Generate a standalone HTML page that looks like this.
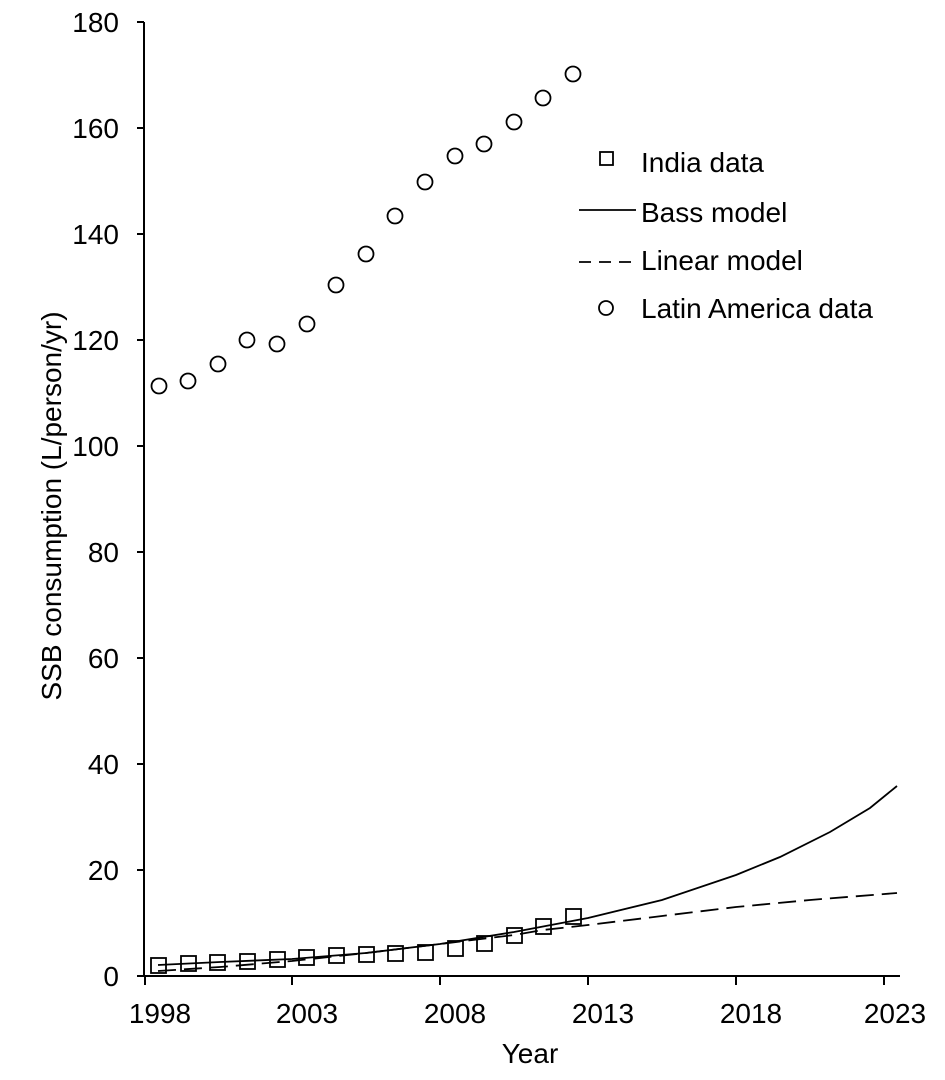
<!DOCTYPE html>
<html><head><meta charset="utf-8"><style>body{margin:0;background:#fff}svg{display:block}</style></head>
<body>
<svg width="945" height="1080" viewBox="0 0 945 1080" xmlns="http://www.w3.org/2000/svg" font-family="Liberation Sans, Arial, sans-serif" font-size="28" fill="#000">
<g stroke="#000" stroke-width="2" fill="none">
<line x1="144" y1="22" x2="144" y2="976"/>
<line x1="144" y1="976" x2="900" y2="976"/>
<line x1="137" y1="22" x2="144" y2="22"/>
<line x1="137" y1="128" x2="144" y2="128"/>
<line x1="137" y1="234" x2="144" y2="234"/>
<line x1="137" y1="340" x2="144" y2="340"/>
<line x1="137" y1="446" x2="144" y2="446"/>
<line x1="137" y1="552" x2="144" y2="552"/>
<line x1="137" y1="658" x2="144" y2="658"/>
<line x1="137" y1="764" x2="144" y2="764"/>
<line x1="137" y1="870" x2="144" y2="870"/>
<line x1="137" y1="976" x2="144" y2="976"/>
<line x1="145" y1="976" x2="145" y2="985"/>
<line x1="292" y1="976" x2="292" y2="985"/>
<line x1="440" y1="976" x2="440" y2="985"/>
<line x1="588" y1="976" x2="588" y2="985"/>
<line x1="736" y1="976" x2="736" y2="985"/>
<line x1="884" y1="976" x2="884" y2="985"/>
</g>
<g text-anchor="end">
<text x="119" y="32">180</text><text x="119" y="138">160</text><text x="119" y="244">140</text>
<text x="119" y="350">120</text><text x="119" y="456">100</text><text x="119" y="562">80</text>
<text x="119" y="668">60</text><text x="119" y="774">40</text><text x="119" y="880">20</text>
<text x="119" y="986">0</text>
</g>
<g text-anchor="middle">
<text x="160" y="1023">1998</text><text x="307" y="1023">2003</text><text x="455" y="1023">2008</text>
<text x="603" y="1023">2013</text><text x="751" y="1023">2018</text><text x="895" y="1023">2023</text>
<text x="530" y="1063">Year</text>
<text transform="translate(61,506) rotate(-90)">SSB consumption (L/person/yr)</text>
</g>
<g stroke="#000" stroke-width="1.8" fill="none">
<polyline points="158,965 220,962 292,959 366,953 440,944 514,932 588,918 662,900 736,875 780,857 830,832 870,808 897,786"/>
<polyline stroke-dasharray="18,8" points="158,971 220,967 292,961 366,953 440,944 514,935 543,930 588,925 662,916 736,907 810,900 897,893"/>
</g>
<g stroke="#000" stroke-width="1.8" fill="none">
<rect x="151" y="958" width="15" height="15"/><rect x="181" y="956" width="15" height="15"/>
<rect x="210" y="955" width="15" height="15"/><rect x="240" y="954" width="15" height="15"/>
<rect x="270" y="952" width="15" height="15"/><rect x="299" y="950" width="15" height="15"/>
<rect x="329" y="948" width="15" height="15"/><rect x="359" y="947" width="15" height="15"/>
<rect x="388" y="946" width="15" height="15"/><rect x="418" y="945" width="15" height="15"/>
<rect x="448" y="941" width="15" height="15"/><rect x="477" y="936" width="15" height="15"/>
<rect x="507" y="928" width="15" height="15"/><rect x="536" y="919" width="15" height="15"/>
<rect x="566" y="909" width="15" height="15"/>
</g>
<g stroke="#000" stroke-width="1.8" fill="none">
<circle cx="159" cy="386" r="7.5"/><circle cx="188" cy="381" r="7.5"/><circle cx="218" cy="364" r="7.5"/>
<circle cx="247" cy="340" r="7.5"/><circle cx="277" cy="344" r="7.5"/><circle cx="307" cy="324" r="7.5"/>
<circle cx="336" cy="285" r="7.5"/><circle cx="366" cy="254" r="7.5"/><circle cx="395" cy="216" r="7.5"/>
<circle cx="425" cy="182" r="7.5"/><circle cx="455" cy="156" r="7.5"/><circle cx="484" cy="144" r="7.5"/>
<circle cx="514" cy="122" r="7.5"/><circle cx="543" cy="98" r="7.5"/><circle cx="573" cy="74" r="7.5"/>
</g>
<g stroke="#000" stroke-width="1.8" fill="none">
<rect x="600" y="152" width="13" height="13"/>
<line x1="579" y1="210" x2="636" y2="210"/>
<line x1="579" y1="262" x2="636" y2="262" stroke-dasharray="12,8"/>
<circle cx="606" cy="308" r="7"/>
</g>
<text x="641" y="172">India data</text>
<text x="641" y="222">Bass model</text>
<text x="641" y="270">Linear model</text>
<text x="641" y="318">Latin America data</text>
</svg>
</body></html>
